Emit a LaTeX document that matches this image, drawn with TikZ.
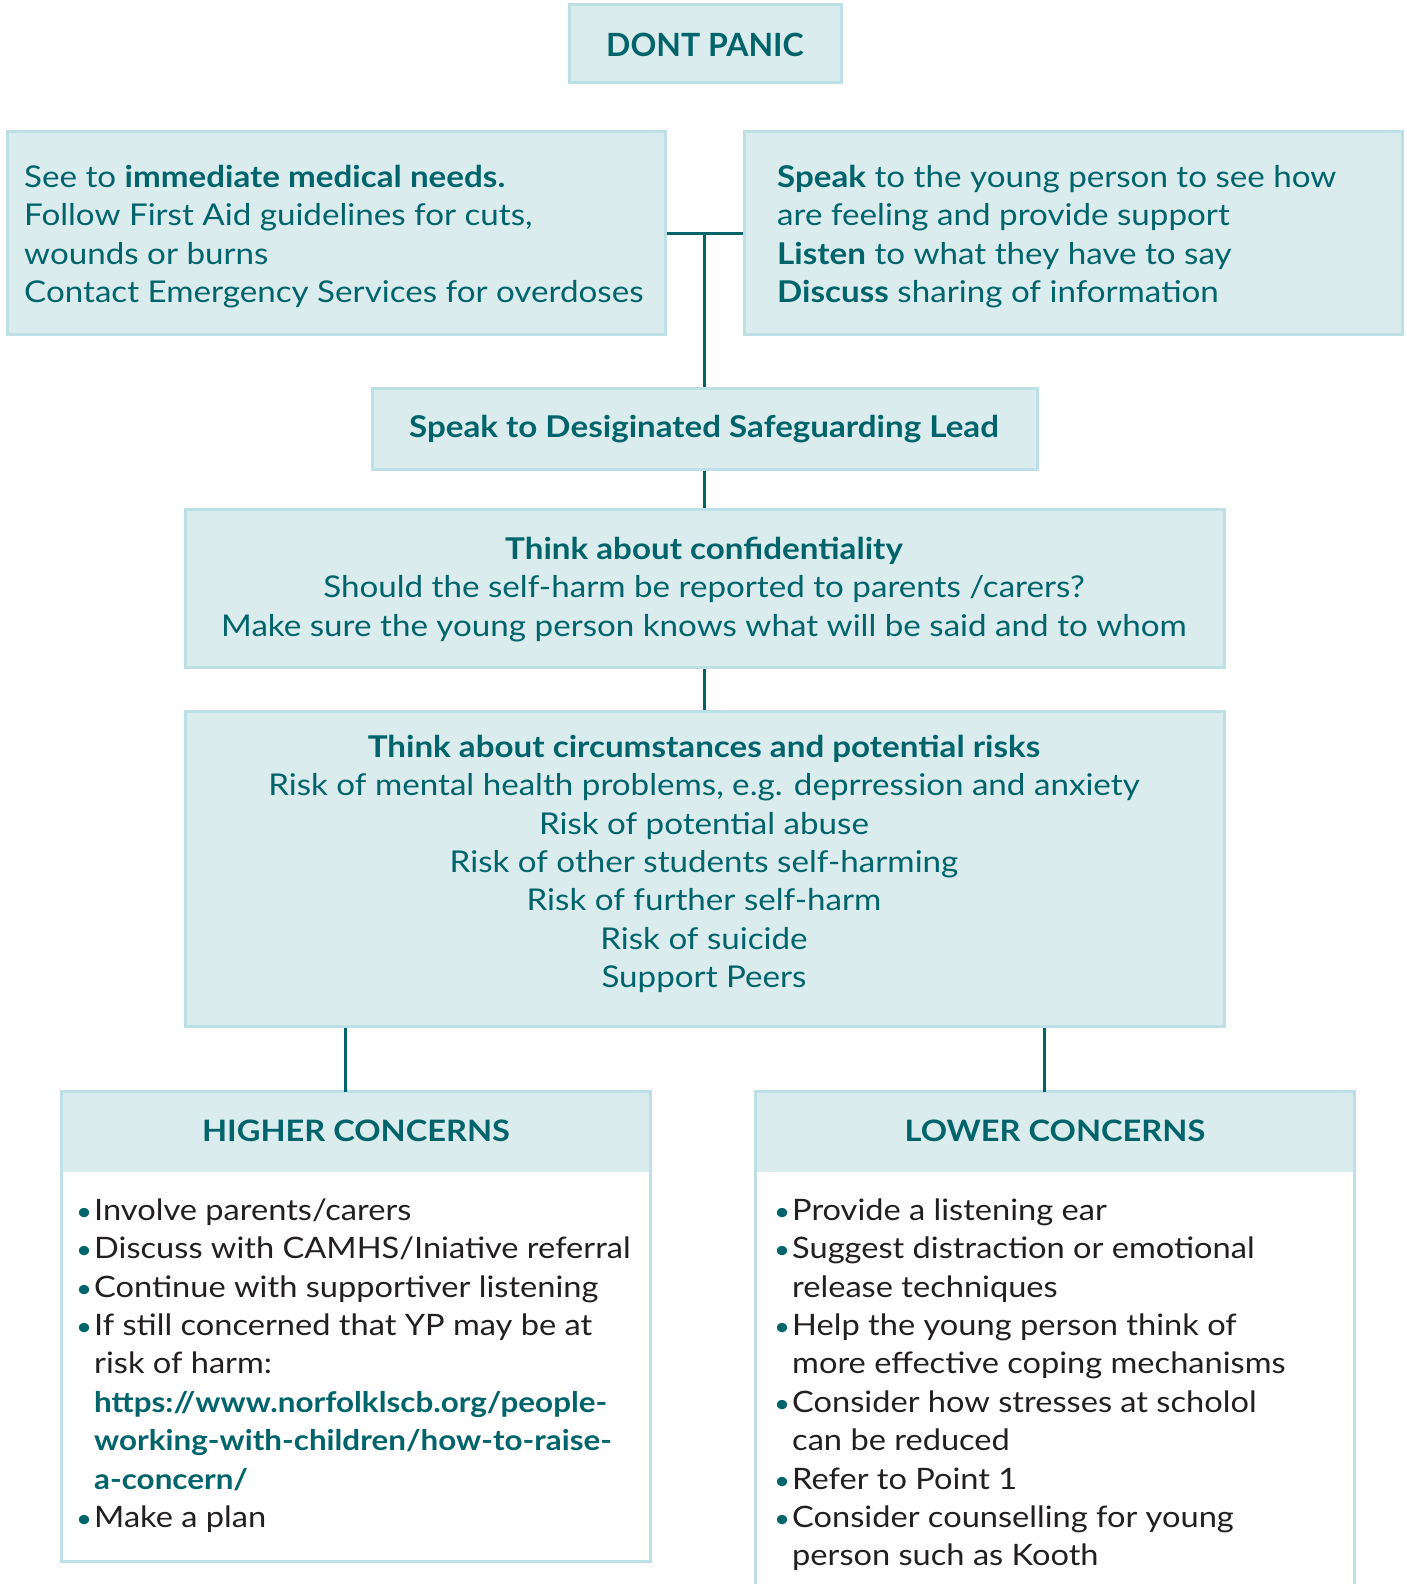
\documentclass[tikz,border=0pt]{standalone}
\usepackage{fontspec}
\setmainfont{Lato}[FakeStretch=1.105]
\newfontfamily\panicfont{Lato}
\usetikzlibrary{fit,calc}
\definecolor{boxfill}{HTML}{DAECEE}
\definecolor{boxline}{HTML}{BCE0E5}
\definecolor{tealc}{HTML}{00646A}
\definecolor{darkc}{HTML}{231F20}
\newcommand\tstrut{\rule{0pt}{27pt}}
\newcommand\mybul{\makebox[21pt][l]{\hspace{3pt}\textcolor{tealc}{\fontsize{25}{25}\selectfont•}}}
\newcommand\myind{\hspace*{21pt}}
\newcommand\urlpart[1]{\textcolor{tealc}{\fontsize{28.4}{38.4}\selectfont\bfseries #1}}
\begin{document}
\begin{tikzpicture}[x=1pt,y=-1pt,
 box/.style={draw=boxline, fill=boxfill, line width=3pt, inner sep=0pt},
 plain/.style={inner sep=0pt, fill=white},
 link/.style={draw=tealc, line width=3pt},
 txt/.style={inner sep=0pt, text=tealc, font=\fontsize{30}{38.4}\selectfont},
 lst/.style={inner sep=0pt, text=darkc, anchor=north west, align=left, font=\fontsize{29.5}{38.4}\selectfont},
]
\useasboundingbox (0,0) rectangle (1407,1584);
\fill[white] (0,0) rectangle (1407,1584);

% boxes
\node[box, fit={(569,5) (841,83)}] (panic) {};
\node[box, fit={(7,132) (665,334)}] (ltop) {};
\node[box, fit={(744,132) (1402,334)}] (rtop) {};
\node[box, fit={(372,388) (1037,469)}] (dsl) {};
\node[box, fit={(185,509) (1224,667)}] (conf) {};
\node[box, fit={(185,711) (1224,1026)}] (circ) {};

\node[plain, fit={(62,1092) (650,1561)}] (high) {};
\fill[boxfill] (high.north west) rectangle (650,1172);
\draw[boxline, line width=3pt] (high.north west) rectangle (high.south east);

\node[plain, fit={(756,1092) (1354,1600)}] (low) {};
\fill[boxfill] (low.north west) rectangle (1354,1172);
\draw[boxline, line width=3pt] (low.north west) rectangle (low.south east);

% connectors
\coordinate (tj) at ($(ltop.east)!0.5!(rtop.west)$);
\coordinate (hx) at (345,0);
\coordinate (lx) at (1044,0);
\draw[link] (ltop.east) -- (rtop.west);
\draw[link] (tj) -- (tj |- dsl.north);
\draw[link] (dsl.south) -- (conf.north);
\draw[link] (conf.south) -- (circ.north);
\draw[link] (circ.south -| hx) -- (high.north -| hx);
\draw[link] (circ.south -| lx) -- (low.north -| lx);

% texts
\node[txt, anchor=north, font=\panicfont\fontsize{32}{38.4}\selectfont\bfseries] (tpanic) at (705,29) {\tstrut DONT PANIC};
\node[txt, anchor=north west, align=left] (tltop) at (24,160) {\tstrut See to \textbf{immediate medical needs.}\\
Follow First Aid guidelines for cuts,\\
wounds or burns\\
Contact Emergency Services for overdoses};
\node[txt, anchor=north west, align=left] (trtop) at (777,160) {\tstrut\textbf{Speak} to the young person to see how\\
are feeling and provide support\\
\textbf{Listen} to what they have to say\\
\textbf{Discuss} sharing of information};
\node[txt, anchor=north, font=\fontsize{30}{38.4}\selectfont\bfseries] (tdsl) at (704,410) {\tstrut Speak to Desiginated Safeguarding Lead};
\node[txt, anchor=north, align=center] (tconf) at (704,532) {\tstrut\textbf{Think about confidentiality}\\
Should the self-harm be reported to parents /carers?\\
Make sure the young person knows what will be said and to whom};
\node[txt, anchor=north, align=center] (tcirc) at (704,730) {\tstrut\textbf{Think about circumstances and potential risks}\\
Risk of mental health problems, e.g. deprression and anxiety\\
Risk of potential abuse\\
Risk of other students self-harming\\
Risk of further self-harm\\
Risk of suicide\\
Support Peers};
\node[txt, anchor=north, font=\fontsize{29.5}{38.4}\selectfont\bfseries] (thigh) at (356,1114) {\tstrut HIGHER CONCERNS};
\node[txt, anchor=north, font=\fontsize{29.5}{38.4}\selectfont\bfseries] (tlow) at (1055,1114) {\tstrut LOWER CONCERNS};
\node[lst] (lhigh) at (73,1193) {\tstrut\mybul Involve parents/carers\\
\mybul Discuss with CAMHS/Iniative referral\\
\mybul Continue with supportiver listening\\
\mybul If still concerned that YP may be at\\
\myind risk of harm:\\
\myind\urlpart{https://www.norfolklscb.org/people-}\\
\myind\urlpart{working-with-children/how-to-raise-}\\
\myind\urlpart{a-concern/}\\
\mybul Make a plan};
\node[lst] (llow) at (771,1193) {\tstrut\mybul Provide a listening ear\\
\mybul Suggest distraction or emotional\\
\myind release techniques\\
\mybul Help the young person think of\\
\myind more effective coping mechanisms\\
\mybul Consider how stresses at scholol\\
\myind can be reduced\\
\mybul Refer to Point 1\\
\mybul Consider counselling for young\\
\myind person such as Kooth};
\end{tikzpicture}
\end{document}
